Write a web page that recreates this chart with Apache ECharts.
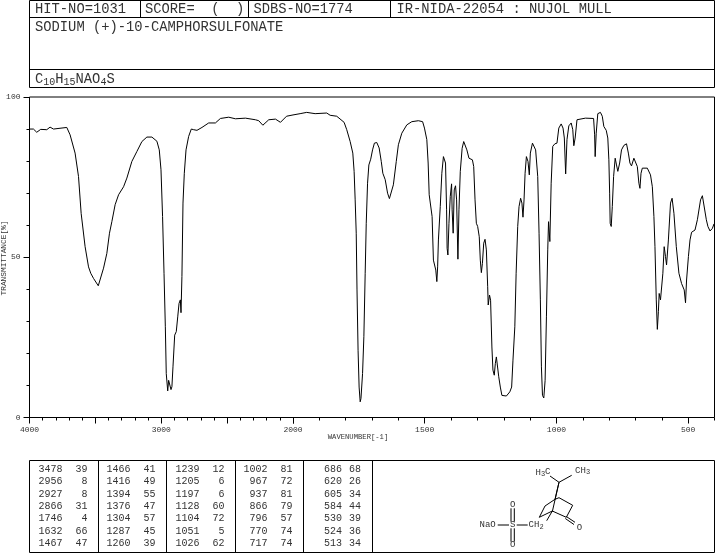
<!DOCTYPE html>
<html><head><meta charset="utf-8">
<style>html,body{margin:0;padding:0;background:#fff}#c{width:715px;height:553px}</style>
<script src="https://cdn.jsdelivr.net/npm/echarts@6/dist/echarts.min.js"></script>
</head><body><div id="c"></div>
<script>
// Spectrum: wavenumber (cm-1) and transmittance (%)
const wavenumbers = [4000,3970,3945,3915,3869,3844,3818,3717,3692,3654,3628,3608,3578,3552,3535,3514,3478,3464,3438,3413,3393,3375,3350,3324,3286,3261,3223,3185,3147,3109,3071,3033,3015,3002,2990,2979,2969,2962,2951,2944,2936,2926,2919,2911,2898,2886,2875,2865,2855,2850,2843,2835,2825,2812,2792,2772,2754,2729,2691,2640,2589,2551,2488,2437,2361,2285,2260,2229,2184,2133,2095,2049,2000,1973,1948,1916,1872,1859,1834,1806,1796,1783,1773,1768,1764,1760,1757,1753,1749,1745,1742,1736,1731,1726,1722,1717,1712,1705,1698,1691,1682,1673,1665,1659,1650,1641,1634,1627,1619,1608,1600,1587,1568,1549,1524,1508,1501,1492,1487,1483,1477,1472,1467,1462,1458,1454,1451,1448,1441,1435,1429,1425,1421,1417,1415,1412,1408,1403,1398,1396,1392,1388,1383,1379,1374,1370,1365,1358,1352,1346,1340,1332,1319,1314,1309,1304,1299,1293,1289,1285,1281,1276,1271,1266,1261,1259,1254,1250,1245,1241,1236,1232,1228,1224,1219,1213,1207,1200,1190,1177,1170,1165,1158,1153,1147,1142,1136,1131,1127,1123,1119,1114,1108,1103,1099,1091,1084,1079,1071,1066,1061,1057,1053,1048,1043,1038,1033,1030,1025,1020,1014,1006,998,991,982,975,970,965,960,953,944,938,934,929,922,915,903,890,859,855,853,849,843,833,826,820,811,805,801,798,796,792,788,783,777,772,767,760,753,744,734,727,721,715,706,700,693,687,683,679,674,655,643,636,630,626,621,617,613,610,605,601,596,591,586,582,575,567,561,554,545,535,525,520,515,510,506,499,493,487,474,465,453,446,439,431,425,417,408,402,400];
const transmittance = [90,90,89,89.9,89.8,90.6,90,90.5,88.2,82.5,75.2,63.7,53.3,47,45,43.4,41.1,41.3,46.6,51.2,57.5,61.1,66.4,69.5,72,74.7,79.9,83,86.1,87.5,87.5,86.2,83.5,77.3,62.7,45,28.3,13.7,8.3,11.6,11.6,8.7,9.6,15.8,25.7,26.8,31.4,35.6,36.7,32.7,44,66.9,76.2,83.5,87.7,90,89.8,89.6,90.5,91.9,91.9,93.3,93.7,93.2,93.4,92.9,92.6,91.2,92.9,93.1,92.1,94,94.4,94.8,95.2,94.8,95,94.3,94,92.1,89.8,86.1,82.5,76.8,67.9,57.5,39.8,21,9.5,4.9,5.9,13.7,25.2,45,60.6,73.1,78.8,80.6,83.5,85.6,85.8,84.1,79.9,76.2,74.2,70,68.3,68.3,72.6,79.9,85.1,88.7,91.3,92.3,92.6,92.3,90.3,86.7,79.4,69.5,69.2,62.7,49.1,49.7,46,42.4,47,55.4,65.8,76.2,81.4,81.4,79.4,64.8,52.8,50.7,60.6,69,72.9,64.8,57.5,71,72.3,67.9,49.4,64.8,76.8,84,86.1,85.9,83.5,80.9,80.4,78.3,67.9,60.6,59.6,56.4,49.1,45.2,48.1,54.4,55.6,52.3,40.8,35.1,38.2,36.6,22,14.8,13.2,16.8,18.9,18.4,12.7,9.5,6.9,6.4,6.7,8,9.5,17.9,28.3,45,59.6,65.8,68.4,66.9,62.5,67.9,76.2,81.4,79.9,75.7,82.5,85.6,85.6,83.5,75.2,57.5,36.7,15.8,6.9,6.1,11.6,31.4,52.3,61.1,54.9,73.1,84.6,85.4,85.6,90.3,91.6,90.3,87.2,76,86.7,91,91.9,89.8,84.8,87.2,92.9,92.7,93.2,93.4,93.3,88.2,81.4,88.7,94.8,95.2,94,90.8,89.6,87.2,80.4,70,60.6,59.6,65.8,75.2,80.9,78.8,76.8,79.4,83.5,84.9,85.4,82.5,79.4,78.5,80.9,81.2,78.3,73.1,71.5,76.2,77.8,77.8,75.7,72,62.7,53.3,36.7,27.5,33,38.7,36.7,36.1,45,53.3,50.2,47.6,55.4,66.9,68.4,63.7,53.3,45,41.8,41.8,39.8,35.8,42.9,50.2,55.4,57.8,58.5,61.7,67.9,69.2,68.9,61.7,59.6,58.2,59,60.4,60.4];

// Peak table, column by column
const peakWave = [[3478,2956,2927,2866,1746,1632,1467],[1466,1416,1394,1376,1304,1287,1260],[1239,1205,1197,1128,1104,1051,1026],[1002,967,937,866,796,770,717],[686,620,605,584,530,524,513]];
const peakT = [[39,8,8,31,4,66,47],[41,49,55,47,57,45,39],[12,6,6,60,72,5,62],[81,72,81,79,57,74,74],[68,26,34,44,39,36,34]];

// Axis tick values and labels
const leftMajor = [4000,3500,3000,2500,2000], leftLabels = [4000,3000,2000];
const rightMajor = [2000,1500,1000,500], rightLabels = [1500,1000,500];
const yMajor = [0,50,100];

// Text
const hdrHit='HIT-NO=1031', hdrScore='SCORE=  (  )', hdrSdbs='SDBS-NO=1774', hdrIr='IR-NIDA-22054 : NUJOL MULL';
const compound='SODIUM (+)-10-CAMPHORSULFONATE';
const formula=[['C',0],['10',1],['H',0],['15',1],['NAO',0],['4',1],['S',0]];
const xName='WAVENUMBER[-1]', yName='TRANSMITTANCE[%]';

const MONO='"Liberation Mono",monospace', INK='#333';
const g=[];
const rect=(x,y,w,h)=>g.push({type:'rect',shape:{x,y,width:w,height:h},style:{fill:null,stroke:'#000',lineWidth:1},silent:true,z:5});
const line=(x1,y1,x2,y2)=>g.push({type:'line',shape:{x1,y1,x2,y2},style:{stroke:'#000',lineWidth:1},silent:true,z:5});
const txt=(t,x,y,size,align='left',rot=0)=>g.push({type:'text',x,y,rotation:rot,style:{text:t,font:size+'px '+MONO,fill:INK,textAlign:align,textVerticalAlign:'middle'},silent:true,z:6});

// Header block
rect(29.5,0.5,685,87);
line(29.5,17.5,714.5,17.5); line(29.5,69.5,714.5,69.5);
line(140.5,0.5,140.5,17.5); line(248.5,0.5,248.5,17.5); line(390.5,0.5,390.5,17.5);
txt(hdrHit,35,9,13.8); txt(hdrScore,145,9,13.8); txt(hdrSdbs,253.5,9,13.8); txt(hdrIr,396.5,9,13.8);
txt(compound,35,27,13.8);
let fx=35;
formula.forEach(([s,sub])=>{const size=sub?10:13.8;txt(s,fx,sub?82:79,size);fx+=s.length*size*0.6;});

// Plot frame and axis names
rect(29.5,97,685,320.5);
txt(xName,358,437,7.2,'center');
txt(yName,4,258,7.8,'center',Math.PI/2);

// Peak table
rect(29.5,460.5,685,92);
[98.5,166.5,235.5,303.5,372.5].forEach(x=>line(x,460.5,x,552.5));
const waveRight=[62.5,130.5,199.5,267.5,342], tRight=[87.5,155.5,224.5,292.5,361];
peakWave.forEach((col,c)=>col.forEach((w,r)=>{
  const y=469.5+r*12.33;
  txt(String(w),waveRight[c],y,10,'right');
  txt(String(peakT[c][r]),tRight[c],y,10,'right');
}));

// Structure
[[550,476,559,482.3],[571.7,475.3,559,482.3],[559,482.3,555,499.3],[559,482.3,552.3,511.7],
 [555,499.3,545,506],[545,506,539.3,517.3],[539.3,517.3,552.3,511],[559,497.7,572.7,505.3],
 [572.7,505.3,566.3,517.3],[552.3,511,566.3,517.3],[555,499.3,559,497.7],[552.3,511,546.7,520.7],
 [566.3,516.5,575,522.3],[565.3,518.5,574,524.5],[497.7,525,509,525],[516.7,525,527.7,525],
 [511,508.3,511,521.7],[514.3,508.3,514.3,521.7],[511,528.3,511,541.7],[514.3,528.3,514.3,541.7]
].forEach(l=>line(...l));
txt('H',535.5,472.5,9); txt('3',541,474,7); txt('C',545,472,9);
txt('CH',575,470.5,9); txt('3',586,472,7);
txt('NaO',479.5,525,9); txt('S',512.7,525,9,'center'); txt('O',512.7,504.5,9,'center'); txt('O',512.7,545,9,'center');
txt('CH',528.5,525,9); txt('2',539.5,527,7); txt('O',579.5,528,9,'center');

const pts=wavenumbers.map((w,i)=>[w,transmittance[i]]);
const labelStyle={fontFamily:MONO,fontSize:8,color:INK};
const xAx=(grid,min,max,interval,major,labels,len,showLabels)=>({type:'value',gridIndex:grid,min,max,inverse:true,position:'bottom',
  interval:interval||undefined,splitLine:{show:false},axisLine:{show:false},
  axisTick:{show:true,length:len,inside:false,lineStyle:{color:'#000',width:1},customValues:major||undefined},
  axisLabel:showLabels?{show:true,margin:8,...labelStyle,customValues:labels,formatter:v=>String(v),showMinLabel:true,showMaxLabel:true}:{show:false}});
const yAx=(grid,interval,major,len,showLabels,show)=>({type:'value',gridIndex:grid,min:0,max:100,show,position:'left',interval:interval||undefined,
  splitLine:{show:false},axisLine:{show:false},
  axisTick:{show:true,length:len,lineStyle:{color:'#000',width:1},customValues:major||undefined},
  axisLabel:showLabels?{show:true,margin:9,...labelStyle,customValues:major,formatter:v=>String(v)}:{show:false}});

const chart=echarts.init(document.getElementById('c'),null,{renderer:'canvas'});
chart.setOption({
  animation:false,backgroundColor:'#fff',
  grid:[{left:29.5,top:97,width:263.5,height:320.5},{left:293,top:97,width:421.5,height:320.5}],
  xAxis:[xAx(0,2000,4000,500,leftMajor,leftLabels,6,true),xAx(0,2000,4000,100,null,null,3,false),
         xAx(1,400,2000,500,rightMajor,rightLabels,6,true),xAx(1,400,2000,100,null,null,3,false)],
  yAxis:[yAx(0,50,yMajor,6,true,true),yAx(0,10,null,3,false,true),yAx(1,10,null,0,false,false)],
  series:[
    {type:'line',xAxisIndex:0,yAxisIndex:0,data:pts.filter(p=>p[0]>=2000),showSymbol:false,symbol:'none',lineStyle:{color:'#000',width:1},silent:true},
    {type:'line',xAxisIndex:2,yAxisIndex:2,data:pts.filter(p=>p[0]<=2000),showSymbol:false,symbol:'none',lineStyle:{color:'#000',width:1},silent:true}
  ],
  graphic:g
});
</script></body></html>
